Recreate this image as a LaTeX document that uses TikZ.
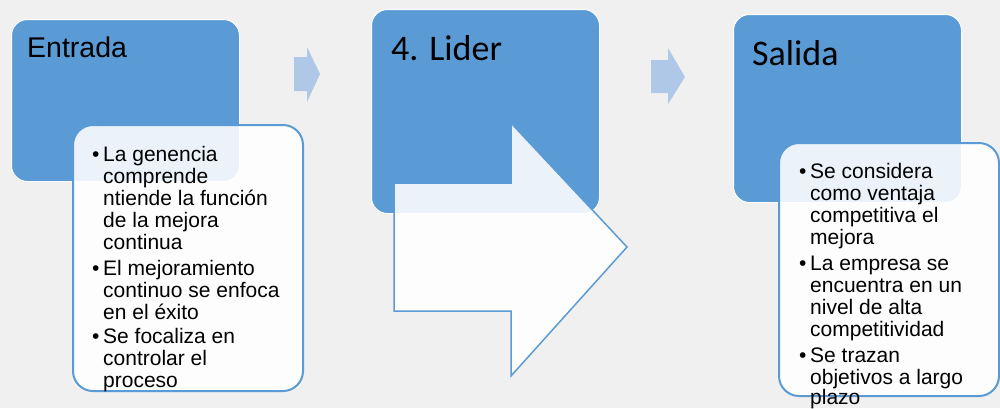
\documentclass[tikz,border=0pt]{standalone}
\usepackage{fontspec}
\setmainfont{Liberation Sans}
\newfontfamily\calibri{Carlito}
\definecolor{bblue}{HTML}{5B9BD5}
\definecolor{lblue}{HTML}{B0C8E8}
\definecolor{bg}{HTML}{F0F0F0}
\tikzset{
  bigbox/.style={fill=bblue, draw=white, line width=1pt, rounded corners=16pt, inner sep=0pt, anchor=north west},
  subbox/.style={fill=white, fill opacity=0.88, draw=bblue, line width=2pt, rounded corners=20pt, inner sep=0pt, anchor=north west},
  ttl/.style={anchor=base west, inner sep=0pt},
  txt/.style={anchor=base west, inner sep=0pt, font=\fontsize{21}{22}\selectfont},
  bul/.style={anchor=base west, inner sep=0pt, font=\fontsize{21}{22}\selectfont},
  smallarrow/.style={fill=lblue, draw=none},
  bigarrow/.style={fill=white, fill opacity=0.88, draw=bblue, line width=1.5pt, line join=miter}
}
\begin{document}
\begin{tikzpicture}[x=1pt,y=-1pt]
\fill[bg] (0,0) rectangle (1000,408);
\useasboundingbox (0,0) rectangle (1000,408);
% Entrada
\node[bigbox, minimum width=228pt, minimum height=162pt] (entrada) at (11,19) {};
\node[ttl, font=\fontsize{28.5}{30}\selectfont] (entradat) at (27,57) {Entrada};
\node[subbox, minimum width=230pt, minimum height=266pt] (entradas) at (72,124) {};
\foreach \y [count=\i] in {161,275,343} \node[bul] (eb\i) at (92,\y) {•};
\foreach \t/\y [count=\i] in {La genencia/161, comprende/183, ntiende la función/205, de la mejora/227, continua/249, El mejoramiento/275, continuo se enfoca/297, en el éxito/319, Se focaliza en/343, controlar el/365, proceso/387}
  \node[txt] (el\i) at (103,\y) {\t};
% arrow 1
\fill[smallarrow] (294,57) -- (307,57) -- (307,47) -- (320,74) -- (307,102) -- (307,91) -- (294,91) -- cycle;
% Lider
\node[bigbox, minimum width=228pt, minimum height=204pt] (lider) at (371,9) {};
\node[ttl, font=\calibri\fontsize{36}{38}\selectfont] (lidert) at (391,60) {4. Lider};
\draw[bigarrow] (394,183) -- (511,183) -- (511,123) -- (627,247) -- (511,376) -- (511,311) -- (394,311) -- cycle;
% arrow 2
\fill[smallarrow] (651,60) -- (668,60) -- (668,48) -- (685,77) -- (668,104) -- (668,93) -- (651,93) -- cycle;
% Salida
\node[bigbox, minimum width=228pt, minimum height=188pt] (salida) at (733,14) {};
\node[ttl, font=\calibri\fontsize{36}{38}\selectfont] (salidat) at (752,65) {Salida};
\node[subbox, minimum width=220pt, minimum height=253pt] (salidas) at (778,142) {};
\foreach \y [count=\i] in {178,270,362} \node[bul] (sb\i) at (799,\y) {•};
\foreach \t/\y [count=\i] in {Se considera/178, como ventaja/200, competitiva el/222, mejora/244, La empresa se/270, encuentra en un/292, nivel de alta/314, competitividad/336, Se trazan/362, objetivos a largo/384, plazo/404}
  \node[txt] (sl\i) at (810,\y) {\t};
\end{tikzpicture}
\end{document}
